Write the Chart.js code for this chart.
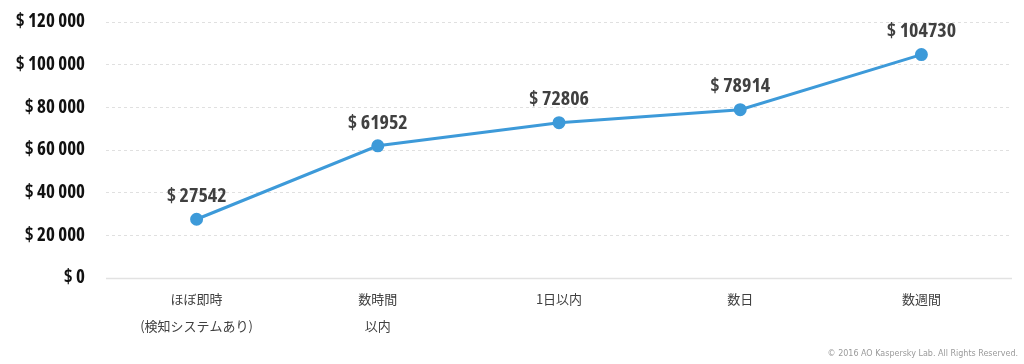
<!DOCTYPE html>
<html>
<head>
<meta charset="utf-8">
<script src="https://cdn.jsdelivr.net/npm/chart.js@4"></script>
<style>
  html, body { margin: 0; padding: 0; background: #fff; }
  #wrap { width: 1024px; height: 364px; position: relative; }
</style>
</head>
<body>
<div id="wrap"><canvas id="chart"></canvas></div>
<script>
// chart data
const categories = [["ほぼ即時", "(検知システムあり)"], ["数時間", "以内"], ["1日以内"], ["数日"], ["数週間"]];
const costValues = [27542, 61952, 72806, 78914, 104730];
const yTicks = [0, 20000, 40000, 60000, 80000, 100000, 120000];

const boldFont = "'Open Sans', sans-serif";
const lineColor = "#3d9ad9";

const formatTick = (v) => {
  if (v === 0) return "$ 0";
  const s = String(v);
  return "$ " + s.slice(0, s.length - 3) + " " + s.slice(-3);
};

// labels above points, solid zero line, copyright line
const labelPlugin = {
  id: "pointLabels",
  beforeDatasetsDraw(chart) {
    const ctx = chart.ctx;
    const area = chart.chartArea;
    const y0 = Math.round(chart.scales.y.getPixelForValue(0)) + 0.5;
    ctx.save();
    ctx.strokeStyle = "#e2e2e2";
    ctx.lineWidth = 1.5;
    ctx.beginPath();
    ctx.moveTo(area.left, y0);
    ctx.lineTo(area.right, y0);
    ctx.stroke();
    ctx.restore();
  },
  afterDatasetsDraw(chart) {
    const ctx = chart.ctx;
    const meta = chart.getDatasetMeta(0);
    ctx.save();
    ctx.font = "bold condensed 20px " + boldFont;
    ctx.fillStyle = "#404040";
    ctx.textAlign = "center";
    ctx.textBaseline = "middle";
    meta.data.forEach((pt, i) => {
      ctx.fillText("$ " + costValues[i], pt.x, pt.y - 23);
    });
    ctx.font = "8px 'DejaVu Sans', sans-serif";
    ctx.fillStyle = "#9a9a9a";
    ctx.textAlign = "right";
    ctx.fillText("© 2016 AO Kaspersky Lab. All Rights Reserved.", 1018, 354);
    ctx.restore();
  },
};

const ctx = document.getElementById("chart").getContext("2d");
const chart = new Chart(ctx, {
  type: "line",
  data: {
    labels: categories,
    datasets: [
      {
        data: costValues,
        borderColor: lineColor,
        backgroundColor: lineColor,
        borderWidth: 3,
        pointRadius: 5,
        pointHoverRadius: 5,
        tension: 0,
        fill: false,
      },
    ],
  },
  options: {
    responsive: true,
    maintainAspectRatio: false,
    animation: false,
    layout: { padding: { top: 22, right: 12, left: 0, bottom: 0 } },
    plugins: { legend: { display: false }, tooltip: { enabled: false } },
    scales: {
      x: {
        offset: true,
        grid: { display: false, drawTicks: false },
        border: { display: false },
        ticks: {
          padding: 8,
          color: "#404040",
          font: { size: 13, family: "'Noto Sans CJK JP', sans-serif", lineHeight: 2.05 },
          maxRotation: 0,
          autoSkip: false,
        },
        afterFit: (scale) => { scale.height = 86; },
      },
      y: {
        min: 0,
        max: 120000,
        afterBuildTicks: (scale) => { scale.ticks = yTicks.map((v) => ({ value: v })); },
        grid: {
          drawTicks: false,
          color: (c) => (c.tick.value === 0 ? "rgba(0,0,0,0)" : "#e0e0e0"),
          lineWidth: 1,
        },
        border: { display: false, dash: [3, 3] },
        ticks: {
          padding: 21,
          color: "#111",
          font: { size: 19, weight: "bold condensed", family: boldFont },
          callback: (v) => formatTick(v),
        },
        afterFit: (scale) => {
          // fixed axis width, no extra room for the top label
          scale.width = 106;
          scale.paddingTop = 0;
          scale.paddingBottom = 0;
        },
      },
    },
  },
  plugins: [labelPlugin],
});
</script>
</body>
</html>
